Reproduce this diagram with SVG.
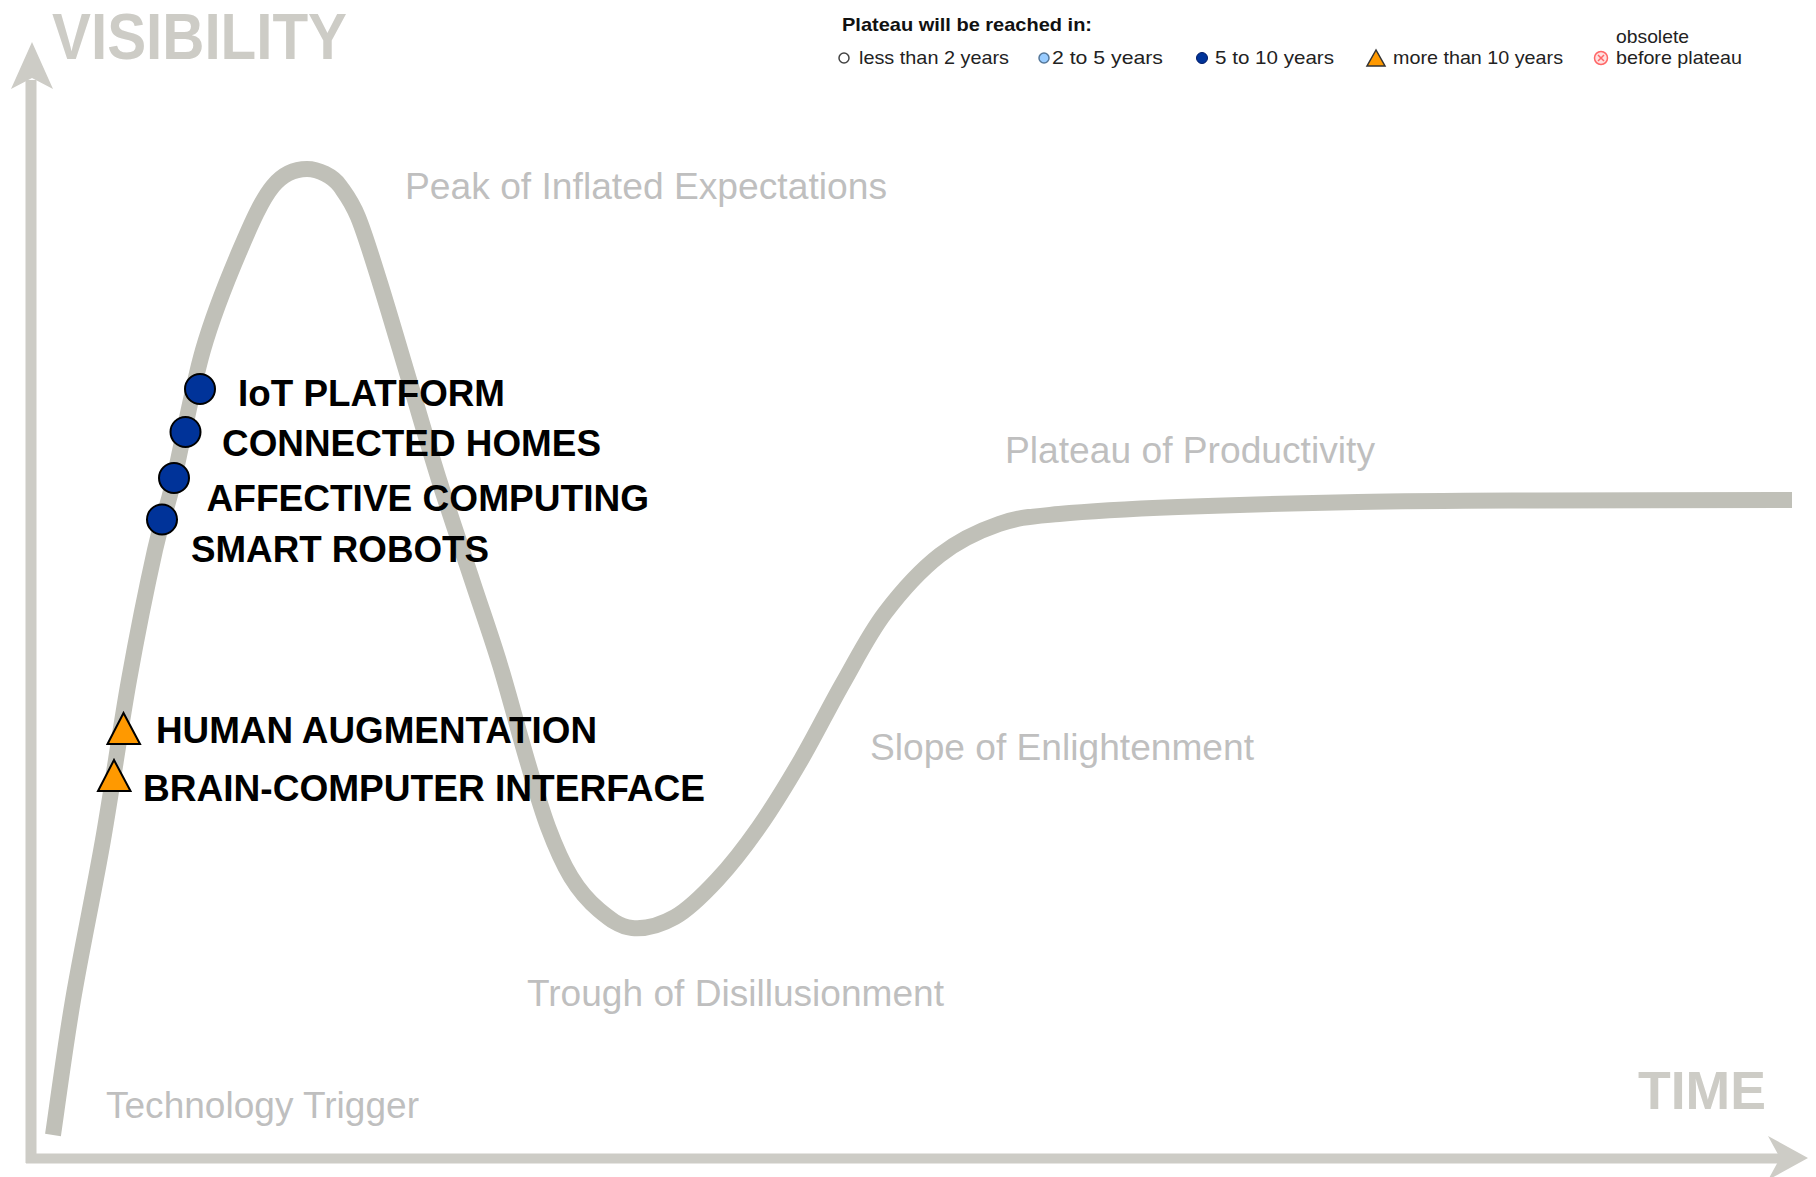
<svg xmlns="http://www.w3.org/2000/svg" width="1816" height="1177" viewBox="0 0 1816 1177">
<defs>
<style>
.axis{fill:none;stroke:#cdccc6;stroke-width:11}
.axhead{fill:#cdccc6}
.curve{fill:none;stroke:#c0c0b8;stroke-width:16;stroke-linecap:butt;stroke-linejoin:round}
.big{font-family:"Liberation Sans",Arial,sans-serif;font-weight:bold;fill:#cdccc6}
.stage{font-family:"Liberation Sans",Arial,sans-serif;font-size:37px;fill:#bfbfbf}
.item{font-family:"Liberation Sans",Arial,sans-serif;font-size:37px;font-weight:bold;fill:#000}
.dot{fill:#003399;stroke:#000;stroke-width:2}
.tri{fill:#ff9900;stroke:#000;stroke-width:2;stroke-linejoin:miter}
.leg{font-family:"Liberation Sans",Arial,sans-serif;font-size:19px;fill:#222}
.legb{font-family:"Liberation Sans",Arial,sans-serif;font-size:19px;font-weight:bold;fill:#111}
</style>
</defs>
<rect width="1816" height="1177" fill="#fff"/>

<g id="axes">
<line class="axis" x1="31" y1="80" x2="31" y2="1163"/>
<polygon class="axhead" points="32,42 53,89 32,78 11,89"/>
<line class="axis" x1="26" y1="1158.5" x2="1782" y2="1158.5" style="stroke-width:10"/>
<polygon class="axhead" points="1808,1158 1768,1136 1780,1158 1768,1180"/>
<text class="big" x="52" y="59" font-size="64" textLength="295" lengthAdjust="spacingAndGlyphs">VISIBILITY</text>
<text class="big" x="1638" y="1109" font-size="53" textLength="128" lengthAdjust="spacingAndGlyphs">TIME</text>
</g>

<g id="hype-curve">
<path class="curve" d="M53,1135 C56.33,1112.5 64.67,1049.17 73,1000 C81.33,950.83 93.67,893.33 103,840 C112.33,786.67 120.33,728.33 129,680 C137.67,631.67 147.67,582.83 155,550 C162.33,517.17 165,516.33 173,483 C181,449.67 191.83,388.83 203,350 C214.17,311.17 228.33,277.33 240,250 C251.67,222.67 261.83,199.5 273,186 C284.17,172.5 295.83,169 307,169 C318.17,169 333,176 340,186 C347,196 351.33,200.83 358,217 C364.67,233.17 371.33,255.33 380,283 C388.67,310.67 400,349.67 410,383 C420,416.33 429.5,449.67 440,483 C450.5,516.33 463,552.67 473,583 C483,613.33 491,635.5 500,665 C509,694.5 519,733 527,760 C535,787 540.67,807.5 548,827 C555.33,846.5 562.5,863.17 571,877 C579.5,890.83 588.83,901.5 599,910 C609.17,918.5 619.33,926.83 632,928 C644.67,929.17 660.83,925 675,917 C689.17,909 703,895 717,880 C731,865 745,847 759,827 C773,807 787,784 801,760 C815,736 829,707.5 843,683 C857,658.5 868.83,634.33 885,613 C901.17,591.67 921,569.83 940,555 C959,540.17 979.17,530.83 999,524 C1018.83,517.17 1029.17,516.83 1059,514 C1088.83,511.17 1128.17,509 1178,507 C1227.83,505 1298.17,503.08 1358,502 C1417.83,500.92 1464.67,500.83 1537,500.5 C1609.33,500.17 1749.5,500 1792,500"/>
</g>

<g id="stage-labels">
<text class="stage" x="405" y="199" textLength="482" lengthAdjust="spacingAndGlyphs">Peak of Inflated Expectations</text>
<text class="stage" x="1005" y="463" textLength="370" lengthAdjust="spacingAndGlyphs">Plateau of Productivity</text>
<text class="stage" x="870" y="760" textLength="384" lengthAdjust="spacingAndGlyphs">Slope of Enlightenment</text>
<text class="stage" x="527" y="1006" textLength="417" lengthAdjust="spacingAndGlyphs">Trough of Disillusionment</text>
<text class="stage" x="106" y="1118" textLength="313" lengthAdjust="spacingAndGlyphs">Technology Trigger</text>
</g>

<g id="connectors"></g>

<g id="node-iot-platform">
<circle class="dot" cx="200" cy="389" r="15"/>
<text class="item" x="238" y="406" textLength="267" lengthAdjust="spacingAndGlyphs">IoT PLATFORM</text>
</g>
<g id="node-connected-homes">
<circle class="dot" cx="185.5" cy="432" r="15"/>
<text class="item" x="222" y="456" textLength="379" lengthAdjust="spacingAndGlyphs">CONNECTED HOMES</text>
</g>
<g id="node-affective-computing">
<circle class="dot" cx="174" cy="478" r="15"/>
<text class="item" x="206.5" y="510.5" textLength="442.5" lengthAdjust="spacingAndGlyphs">AFFECTIVE COMPUTING</text>
</g>
<g id="node-smart-robots">
<circle class="dot" cx="162" cy="519.5" r="15"/>
<text class="item" x="191" y="562" textLength="298" lengthAdjust="spacingAndGlyphs">SMART ROBOTS</text>
</g>
<g id="node-human-augmentation">
<polygon class="tri" points="123.5,713 107.5,744 140,744"/>
<text class="item" x="156" y="743" textLength="441" lengthAdjust="spacingAndGlyphs">HUMAN AUGMENTATION</text>
</g>
<g id="node-brain-computer-interface">
<polygon class="tri" points="114,760 98,791 130.5,791"/>
<text class="item" x="143" y="801" textLength="562" lengthAdjust="spacingAndGlyphs">BRAIN-COMPUTER INTERFACE</text>
</g>

<g id="legend">
<text class="legb" x="842" y="30.5" textLength="250" lengthAdjust="spacingAndGlyphs">Plateau will be reached in:</text>
<circle cx="844" cy="58" r="5" fill="#fff" stroke="#444" stroke-width="1.5"/>
<text class="leg" x="859" y="64" textLength="150" lengthAdjust="spacingAndGlyphs">less than 2 years</text>
<circle cx="1044" cy="58" r="5" fill="#99ccff" stroke="#557799" stroke-width="1.5"/>
<text class="leg" x="1052" y="64" textLength="111" lengthAdjust="spacingAndGlyphs">2 to 5 years</text>
<circle cx="1202" cy="58" r="5.5" fill="#003399" stroke="#001a66" stroke-width="1"/>
<text class="leg" x="1215" y="64" textLength="119" lengthAdjust="spacingAndGlyphs">5 to 10 years</text>
<polygon points="1376,50 1367,66 1385,66" fill="#ff9900" stroke="#333" stroke-width="1.5"/>
<text class="leg" x="1393" y="64" textLength="170" lengthAdjust="spacingAndGlyphs">more than 10 years</text>
<circle cx="1601" cy="58" r="6.5" fill="#ffe0e0" stroke="#ff6666" stroke-width="1.5"/>
<path d="M1598,55 L1604,61 M1604,55 L1598,61" stroke="#ff6666" stroke-width="1.5"/>
<text class="leg" x="1616" y="42.5" textLength="73" lengthAdjust="spacingAndGlyphs">obsolete</text>
<text class="leg" x="1616" y="63.5" textLength="126" lengthAdjust="spacingAndGlyphs">before plateau</text>
</g>
</svg>
